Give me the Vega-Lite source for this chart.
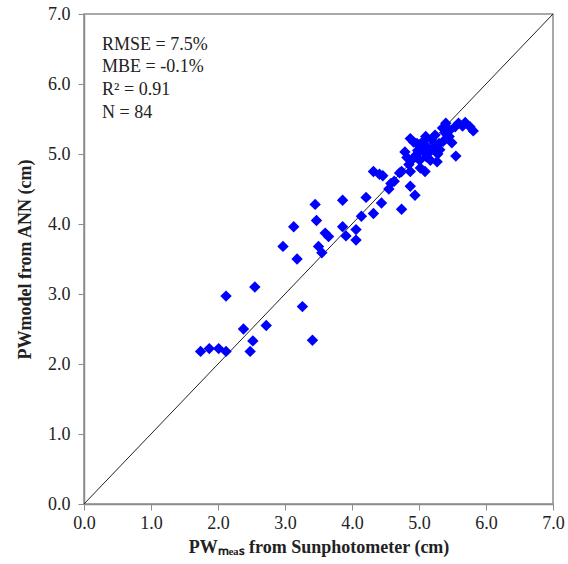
{
  "$schema": "https://vega.github.io/schema/vega-lite/v6.json",
  "width": 469,
  "height": 490,
  "autosize": {"type": "none"},
  "padding": {"left": 84, "top": 14, "right": 15, "bottom": 60},
  "background": "white",
  "config": {
    "view": {"stroke": "#8c8c8c", "strokeWidth": 1.5},
    "axis": {
      "grid": false,
      "domainColor": "#8c8c8c",
      "domainWidth": 1.5,
      "tickColor": "#8c8c8c",
      "tickSize": 6,
      "labelFlush": false,
      "labelOverlap": false,
      "labelFont": "Liberation Serif",
      "labelFontSize": 18,
      "labelColor": "#222",
      "titleFont": "Liberation Serif",
      "titleFontSize": 18,
      "titleFontWeight": "bold",
      "titleColor": "#222"
    }
  },
  "datasets": {
    "pts": [
      {"meas": 1.74, "model": 2.18}, {"meas": 1.87, "model": 2.22}, {"meas": 2.01, "model": 2.22},
      {"meas": 2.12, "model": 2.18}, {"meas": 2.48, "model": 2.18}, {"meas": 2.38, "model": 2.50},
      {"meas": 2.52, "model": 2.33}, {"meas": 2.72, "model": 2.55}, {"meas": 2.12, "model": 2.97},
      {"meas": 2.55, "model": 3.10}, {"meas": 3.26, "model": 2.82}, {"meas": 3.41, "model": 2.34},
      {"meas": 2.97, "model": 3.68}, {"meas": 3.18, "model": 3.50}, {"meas": 3.13, "model": 3.96},
      {"meas": 3.45, "model": 4.28}, {"meas": 3.47, "model": 4.05}, {"meas": 3.50, "model": 3.68},
      {"meas": 3.55, "model": 3.59}, {"meas": 3.60, "model": 3.87}, {"meas": 3.65, "model": 3.82},
      {"meas": 3.86, "model": 4.34}, {"meas": 3.86, "model": 3.96}, {"meas": 3.91, "model": 3.83},
      {"meas": 4.06, "model": 3.92}, {"meas": 4.06, "model": 3.77}, {"meas": 4.14, "model": 4.11},
      {"meas": 4.21, "model": 4.38}, {"meas": 4.32, "model": 4.15}, {"meas": 4.44, "model": 4.30},
      {"meas": 4.32, "model": 4.75}, {"meas": 4.41, "model": 4.71}, {"meas": 4.46, "model": 4.69},
      {"meas": 4.55, "model": 4.50}, {"meas": 4.63, "model": 4.61}, {"meas": 4.71, "model": 4.73},
      {"meas": 4.74, "model": 4.21}, {"meas": 4.87, "model": 4.54}, {"meas": 4.94, "model": 4.41},
      {"meas": 4.74, "model": 4.75}, {"meas": 4.87, "model": 4.75}, {"meas": 4.79, "model": 5.03},
      {"meas": 4.87, "model": 5.22}, {"meas": 4.97, "model": 5.15}, {"meas": 4.96, "model": 4.99},
      {"meas": 5.01, "model": 4.91}, {"meas": 5.09, "model": 4.75}, {"meas": 5.06, "model": 5.18},
      {"meas": 5.12, "model": 5.10}, {"meas": 5.17, "model": 4.91}, {"meas": 5.27, "model": 4.89},
      {"meas": 5.24, "model": 5.27}, {"meas": 5.31, "model": 5.06}, {"meas": 5.39, "model": 5.30},
      {"meas": 5.40, "model": 5.44}, {"meas": 5.49, "model": 5.16}, {"meas": 5.55, "model": 4.97},
      {"meas": 5.46, "model": 5.34}, {"meas": 5.59, "model": 5.44}, {"meas": 5.69, "model": 5.45},
      {"meas": 5.76, "model": 5.39}, {"meas": 5.81, "model": 5.33}, {"meas": 4.94, "model": 4.96},
      {"meas": 5.01, "model": 5.13}, {"meas": 5.11, "model": 4.96}, {"meas": 5.36, "model": 5.18},
      {"meas": 5.19, "model": 5.20}, {"meas": 5.54, "model": 5.39}, {"meas": 5.05, "model": 5.05},
      {"meas": 4.85, "model": 4.85}, {"meas": 4.90, "model": 4.92}, {"meas": 5.15, "model": 5.02},
      {"meas": 5.22, "model": 5.10}, {"meas": 5.30, "model": 5.15}, {"meas": 5.02, "model": 4.80},
      {"meas": 4.98, "model": 5.05}, {"meas": 5.35, "model": 5.37}, {"meas": 5.45, "model": 5.25},
      {"meas": 4.82, "model": 4.95}, {"meas": 5.10, "model": 5.25}, {"meas": 5.65, "model": 5.40},
      {"meas": 4.92, "model": 5.17}, {"meas": 5.28, "model": 5.00}, {"meas": 4.58, "model": 4.58}
    ],
    "line": [{"meas": 0, "model": 0}, {"meas": 7, "model": 7}],
    "stats": [
      {"meas": 0.27, "model": 6.56, "label": "RMSE = 7.5%"},
      {"meas": 0.27, "model": 6.24, "label": "MBE = -0.1%"},
      {"meas": 0.27, "model": 5.91, "label": "R² = 0.91"},
      {"meas": 0.27, "model": 5.59, "label": "N = 84"}
    ]
  },
  "encoding": {
    "x": {
      "field": "meas", "type": "quantitative",
      "scale": {"domain": [0, 7], "nice": false, "zero": true},
      "axis": {"values": [0, 1, 2, 3, 4, 5, 6, 7], "format": ".1f", "title": "PWₘₑₐₛ from Sunphotometer  (cm)", "labelPadding": 4, "titlePadding": 6}
    },
    "y": {
      "field": "model", "type": "quantitative",
      "scale": {"domain": [0, 7], "nice": false, "zero": true},
      "axis": {"values": [0, 1, 2, 3, 4, 5, 6, 7], "format": ".1f", "title": "PWmodel from ANN (cm)", "labelPadding": 8, "titlePadding": 13}
    }
  },
  "layer": [
    {
      "data": {"name": "line"},
      "mark": {"type": "line", "color": "#222", "strokeWidth": 1},
      "encoding": {}
    },
    {
      "data": {"name": "pts"},
      "mark": {"type": "point", "shape": "diamond", "filled": true, "color": "#0000ff", "size": 130, "opacity": 1},
      "encoding": {}
    },
    {
      "data": {"name": "stats"},
      "mark": {"type": "text", "align": "left", "baseline": "middle", "font": "Liberation Serif", "fontSize": 18, "color": "#222"},
      "encoding": {"text": {"field": "label"}}
    }
  ]
}
